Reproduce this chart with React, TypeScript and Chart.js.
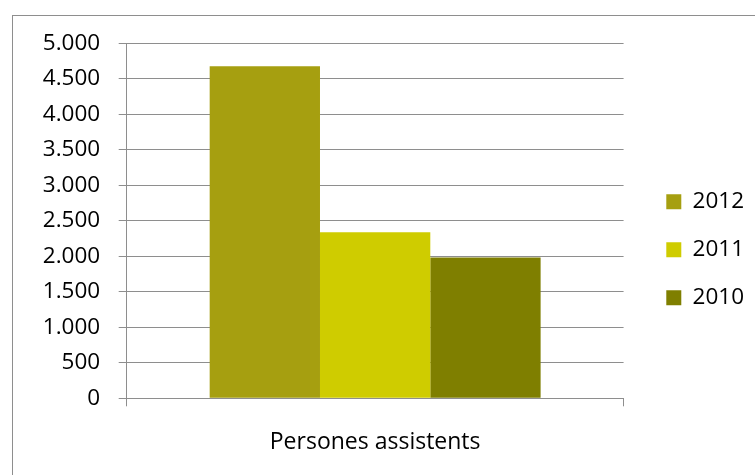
import React, { useEffect, useRef } from "react";
import { Chart, registerables } from "chart.js";

Chart.register(...registerables);

// data
const categories = ["Persones assistents"];
const years = ["2012", "2011", "2010"];
const values2012 = [4680];
const values2011 = [2340];
const values2010 = [1985];
const yTicks = [0, 500, 1000, 1500, 2000, 2500, 3000, 3500, 4000, 4500, 5000];

const colors = ["#a69f10", "#cfcc00", "#7f7f00"];
const gridColor = "#8e8e8e";
const fontFamily = "'Open Sans', sans-serif";

// 5000 -> "5.000"
function formatNumber(v: number) {
  return String(v).replace(/\B(?=(\d{3})+(?!\d))/g, ".");
}

export default function App() {
  const chartRef = useRef<HTMLCanvasElement | null>(null);

  useEffect(() => {
    let chartInstance: Chart<"bar"> | null = null;

    if (chartRef.current) {
      const ctx = chartRef.current.getContext("2d");
      if (ctx) {
        chartInstance = new Chart(ctx, {
          type: "bar",
          data: {
            labels: categories,
            datasets: [values2012, values2011, values2010].map((vals, i) => ({
              label: years[i],
              data: vals,
              backgroundColor: colors[i],
              borderWidth: 0,
              barPercentage: 1,
              categoryPercentage: 0.666,
            })),
          },
          options: {
            animation: false,
            responsive: false,
            devicePixelRatio: 1,
            layout: { padding: { top: 27.5, left: 0, right: 0, bottom: 0 } },
            plugins: {
              tooltip: { enabled: false },
              legend: {
                position: "right",
                labels: {
                  boxWidth: 15,
                  boxHeight: 15,
                  padding: 25.5,
                  color: "#000",
                  font: { family: fontFamily, size: 22.5 },
                },
              },
            },
            scales: {
              x: {
                grid: {
                  drawOnChartArea: false,
                  drawTicks: true,
                  tickLength: 8,
                  color: gridColor,
                  lineWidth: 1,
                },
                border: { display: true, color: gridColor, width: 1 },
                ticks: {
                  color: "#000",
                  padding: 22,
                  font: { family: fontFamily, size: 23 },
                },
                afterFit: (scale) => {
                  scale.height = 57.7;
                },
              },
              y: {
                min: 0,
                max: 5000,
                afterBuildTicks: (scale) => {
                  scale.ticks = yTicks.map((v) => ({ value: v }));
                },
                grid: {
                  drawTicks: true,
                  tickLength: 8,
                  color: gridColor,
                  lineWidth: 1,
                },
                border: { display: true, color: gridColor, width: 1 },
                ticks: {
                  color: "#000",
                  padding: 18.5,
                  font: { family: fontFamily, size: 22.5 },
                  callback: (v) => formatNumber(Number(v)),
                },
                afterFit: (scale) => {
                  scale.width = 113.7;
                  // the label padding should not push the plot down
                  scale.paddingTop = 0;
                  scale.paddingBottom = 0;
                },
              },
              // empty axis, only keeps a gap between plot and legend
              gap: {
                position: "right",
                display: true,
                grid: { display: false },
                border: { display: false },
                ticks: { display: false },
                afterFit: (scale) => {
                  scale.width = 17.2;
                },
              },
            },
          },
        });
      }
    }

    return () => {
      if (chartInstance) {
        chartInstance.destroy();
      }
    };
  }, []);

  return (
    <div
      style={{
        position: "fixed",
        left: 12,
        top: 15,
        width: 800,
        height: 500,
        border: "1px solid #8e8e8e",
        background: "#fff",
      }}
    >
      <canvas
        ref={chartRef}
        width={741}
        height={440}
        style={{ display: "block", width: 741, height: 440 }}
      ></canvas>
    </div>
  );
}
